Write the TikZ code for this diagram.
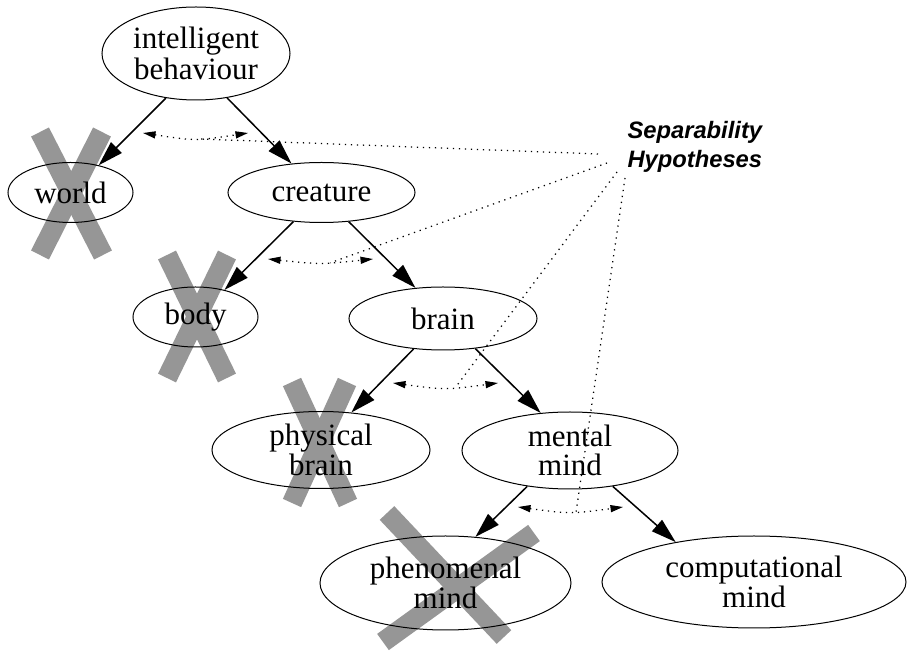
\documentclass[tikz,border=0pt]{standalone}
\usepackage{fontspec}
\setmainfont{Liberation Serif}
\newfontfamily\hypfont{Liberation Sans}
\usepackage{tikz}
\usetikzlibrary{shapes.geometric, arrows.meta}
\definecolor{crossgray}{RGB}{150,150,150}
\tikzstyle{idea} = [ellipse,draw,line width=0.4pt,inner sep=0pt,align=center,font=\fontsize{12.4}{9.2}\selectfont]
\tikzstyle{split} = [line width=0.6pt,-{Triangle[length=10pt,width=6pt]}]
\tikzstyle{hyp} = [line width=0.5pt,dash pattern=on 0.5pt off 1.9pt,{Triangle[length=5pt,width=2.8pt]}-{Triangle[length=5pt,width=2.8pt]}]
\tikzstyle{link} = [line width=0.5pt,dash pattern=on 0.5pt off 1.9pt]
\tikzstyle{xbar} = [line width=8pt,crossgray]

\begin{document}
\begin{tikzpicture}[x=0.4pt,y=-0.4pt]
\useasboundingbox (0,0) rectangle (907,651);

%cross out the rejected side of each split
\draw[xbar] (40,132) -- (103,255);
\draw[xbar] (102,132) -- (40,255);
\draw[xbar] (167,255) -- (227,378);
\draw[xbar] (227,255) -- (167,378);
\draw[xbar] (292,382) -- (348,503);
\draw[xbar] (347,382) -- (292,503);
\draw[xbar] (387,513) -- (504,637);
\draw[xbar] (534,533) -- (383,642);

\node[idea,minimum width=75.2pt,minimum height=37.2pt] (ib) at (196,53.5) {intelligent\\behaviour};
\node[idea,minimum width=50pt,minimum height=24pt] (world) at (70.5,192.5) {world};
\node[idea,minimum width=74.8pt,minimum height=24pt] (creature) at (321.5,192.5) {creature};
\node[idea,minimum width=50pt,minimum height=24pt] (body) at (195.5,317) {body};
\node[idea,minimum width=75.2pt,minimum height=25.2pt] (brain) at (443,318.5) {brain};
\node[idea,minimum width=87.2pt,minimum height=30.8pt,font=\fontsize{12.4}{11.8}\selectfont] (physical) at (321,450) {physical\\brain};
\node[idea,minimum width=86.4pt,minimum height=30.8pt,font=\fontsize{12.4}{11.8}\selectfont] (mental) at (570,450.5) {mental\\mind};
\node[idea,minimum width=100.4pt,minimum height=37.6pt] (phenomenal) at (445.5,583) {phenomenal\\mind};
\node[idea,minimum width=121.6pt,minimum height=36.8pt] (computational) at (754,582) {computational\\mind};

\draw[split] (ib.-124) -- (world.44);
\draw[split] (ib.-55) -- (creature.136);
\draw[split] (creature.-134) -- (body.43);
\draw[split] (creature.-47) -- (brain.132);
\draw[split] (brain.-134) -- (physical.51);
\draw[split] (brain.-43) -- (mental.128);
\draw[split] (mental.-140) -- (phenomenal.57);
\draw[split] (mental.-40) -- (computational.153);

%hypothesis arcs under each split
\coordinate (h1a) at (143,133);
\coordinate (h1b) at (248,133);
\coordinate (h2a) at (268,259);
\coordinate (h2b) at (373,259);
\coordinate (h3a) at (393,383);
\coordinate (h3b) at (498,383);
\coordinate (h4a) at (518,507);
\coordinate (h4b) at (623,507);
\draw[hyp] (h1a) .. controls (195.5,141) .. (h1b) coordinate[pos=0.55] (m1);
\draw[hyp] (h2a) .. controls (320.5,264.5) .. (h2b) coordinate[pos=0.62] (m2);
\draw[hyp] (h3a) .. controls (445.5,390) .. (h3b) coordinate[pos=0.62] (m3);
\draw[hyp] (h4a) .. controls (570.5,514) .. (h4b) coordinate[pos=0.57] (m4);

\node[anchor=north west,inner sep=0pt,align=left,font={\hypfont\fontsize{9.5}{11.6}\selectfont\bfseries\itshape}] (sep) at (627,121) {Separability\\Hypotheses};

\coordinate (s1) at (598,154);
\coordinate (s2) at (607,163);
\coordinate (s3) at (617,172);
\coordinate (s4) at (625,178);
\draw[link] (s1) -- (m1);
\draw[link] (s2) -- (m2);
\draw[link] (s3) -- (m3);
\draw[link] (s4) -- (m4);

\end{tikzpicture}
\end{document}
